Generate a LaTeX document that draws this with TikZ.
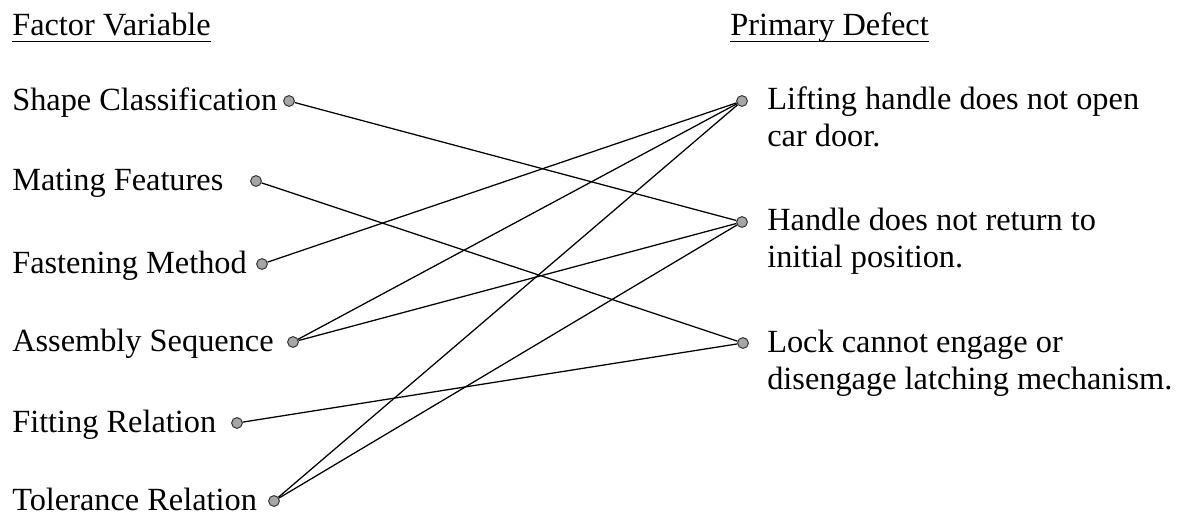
\documentclass[tikz,border=0pt]{standalone}
\usepackage{fontspec}
\setmainfont{Liberation Serif}
\usetikzlibrary{positioning}

\begin{document}
\begin{tikzpicture}[x=0.025cm,y=-0.025cm,
    every node/.style={inner sep=0pt},
    lbl/.style={font=\fontsize{23}{26.3}\selectfont},
    pindot/.style={circle,draw=black!80,fill=gray!70,minimum size=0.27cm,line width=0.7pt},
    link/.style={line width=0.9pt}]

    \useasboundingbox (0,0) rectangle (1177,516);

    % headings
    \node[lbl,anchor=base west] (fv) at (12,35) {Factor Variable};
    \node[lbl,anchor=base west] (pd) at (730,35) {Primary Defect};
    \draw[line width=0.6pt] ([yshift=-4.3pt]fv.base west) -- ([yshift=-4.3pt]fv.base east);
    \draw[line width=0.6pt] ([yshift=-4.3pt]pd.base west) -- ([yshift=-4.3pt]pd.base east);

    % factor variables
    \node[lbl,anchor=base west] (tshape) at (12,110) {Shape Classification};
    \node[pindot] (dshape) at (289,101) {};
    \node[lbl,anchor=base west] (tmating) at (12,190) {Mating Features};
    \node[pindot] (dmating) at (256,181) {};
    \node[lbl,anchor=base west] (tfasten) at (12,273) {Fastening Method};
    \node[pindot] (dfasten) at (262,264) {};
    \node[lbl,anchor=base west] (tassembly) at (12,351) {Assembly Sequence};
    \node[pindot] (dassembly) at (293,342) {};
    \node[lbl,anchor=base west] (tfitting) at (12,432) {Fitting Relation};
    \node[pindot] (dfitting) at (237,423) {};
    \node[lbl,anchor=base west] (ttolerance) at (12,510) {Tolerance Relation};
    \node[pindot] (dtolerance) at (274,501) {};

    % primary defects
    \node[pindot] (dlifting) at (742,101) {};
    \node[lbl,anchor=north west,align=left] (tlifting) at (767,86)
        {Lifting handle does not open\\car door.};
    \node[pindot] (dhandle) at (742,222) {};
    \node[lbl,anchor=north west,align=left] (thandle) at (767,208)
        {Handle does not return to\\initial position.};
    \node[pindot] (dlock) at (743,343) {};
    \node[lbl,anchor=north west,align=left] (tlock) at (767,330)
        {Lock cannot engage or\\disengage latching mechanism.};

    % links
    \draw[link] (dshape) -- (dhandle);
    \draw[link] (dmating) -- (dlock);
    \draw[link] (dfasten) -- (dlifting);
    \draw[link] (dassembly) -- (dlifting);
    \draw[link] (dassembly) -- (dhandle);
    \draw[link] (dfitting) -- (dlock);
    \draw[link] (dtolerance) -- (dlifting);
    \draw[link] (dtolerance) -- (dhandle);

\end{tikzpicture}
\end{document}
